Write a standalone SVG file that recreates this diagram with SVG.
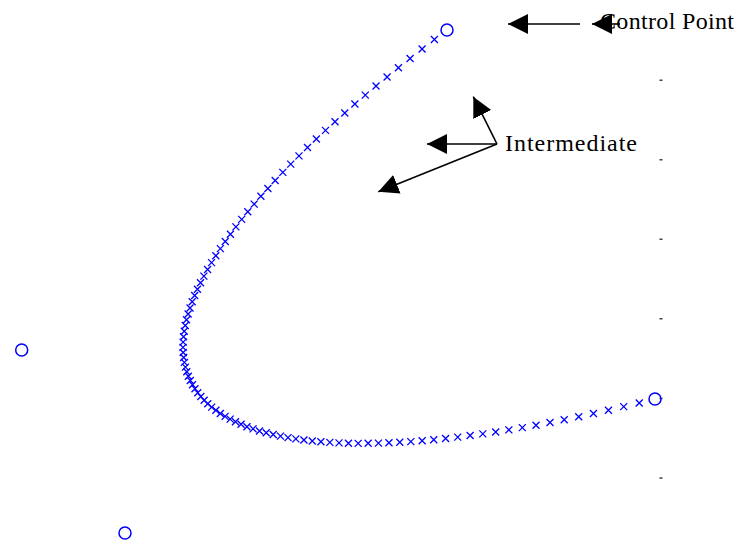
<svg xmlns="http://www.w3.org/2000/svg" xmlns:xlink="http://www.w3.org/1999/xlink" width="739" height="543" viewBox="0 0 739 543">
<style>
.cp{fill:none;stroke:#0000ff;stroke-width:1.5}
.xm{stroke:#0000ff;stroke-width:1.3;fill:none}
.arr{stroke:#000;stroke-width:1.6;fill:none;marker-end:url(#ah)}
.lbl{font-family:"Liberation Serif","Times New Roman",serif;font-size:24px;fill:#000}
.tick{fill:#444}
</style>
<defs>
<marker id="ah" markerUnits="userSpaceOnUse" markerWidth="22" markerHeight="22" refX="20" refY="10" orient="auto">
<path d="M0,0 L20,10 L0,20 z" fill="#000"/>
</marker>
<path id="x" class="xm" d="M-3.5,-3.5 L3.5,3.5 M-3.5,3.5 L3.5,-3.5"/>
</defs>
<rect width="739" height="543" fill="#fff"/>
<g id="ticks">
<rect class="tick" x="659.5" y="79.5" width="3" height="1.5"/>
<rect class="tick" x="659.5" y="159" width="3" height="1.5"/>
<rect class="tick" x="659.5" y="238.5" width="3" height="1.5"/>
<rect class="tick" x="659.5" y="318" width="3" height="1.5"/>
<rect class="tick" x="659.5" y="397.7" width="3" height="1.5"/>
<rect class="tick" x="659.5" y="477.3" width="3" height="1.5"/>
</g>
<g id="curve">
<use href="#x" x="434.38" y="39.56"/><use href="#x" x="422.08" y="49.03"/><use href="#x" x="410.09" y="58.43"/><use href="#x" x="398.42" y="67.73"/><use href="#x" x="387.06" y="76.95"/>
<use href="#x" x="376.02" y="86.08"/><use href="#x" x="365.30" y="95.12"/><use href="#x" x="354.88" y="104.08"/><use href="#x" x="344.78" y="112.94"/><use href="#x" x="335.0" y="121.71"/>
<use href="#x" x="325.52" y="130.39"/><use href="#x" x="316.36" y="138.97"/><use href="#x" x="307.50" y="147.46"/><use href="#x" x="298.96" y="155.85"/><use href="#x" x="290.72" y="164.15"/>
<use href="#x" x="282.80" y="172.34"/><use href="#x" x="275.18" y="180.44"/><use href="#x" x="267.87" y="188.43"/><use href="#x" x="260.87" y="196.33"/><use href="#x" x="254.17" y="204.12"/>
<use href="#x" x="247.78" y="211.81"/><use href="#x" x="241.69" y="219.39"/><use href="#x" x="235.91" y="226.87"/><use href="#x" x="230.43" y="234.24"/><use href="#x" x="225.25" y="241.5"/>
<use href="#x" x="220.38" y="248.65"/><use href="#x" x="215.80" y="255.70"/><use href="#x" x="211.53" y="262.63"/><use href="#x" x="207.56" y="269.44"/><use href="#x" x="203.89" y="276.15"/>
<use href="#x" x="200.52" y="282.74"/><use href="#x" x="197.45" y="289.22"/><use href="#x" x="194.67" y="295.57"/><use href="#x" x="192.20" y="301.81"/><use href="#x" x="190.02" y="307.94"/>
<use href="#x" x="188.13" y="313.94"/><use href="#x" x="186.54" y="319.82"/><use href="#x" x="185.25" y="325.57"/><use href="#x" x="184.25" y="331.21"/><use href="#x" x="183.54" y="336.72"/>
<use href="#x" x="183.13" y="342.11"/><use href="#x" x="183.01" y="347.36"/><use href="#x" x="183.18" y="352.49"/><use href="#x" x="183.64" y="357.50"/><use href="#x" x="184.40" y="362.37"/>
<use href="#x" x="185.44" y="367.11"/><use href="#x" x="186.77" y="371.72"/><use href="#x" x="188.39" y="376.20"/><use href="#x" x="190.30" y="380.54"/><use href="#x" x="192.5" y="384.75"/>
<use href="#x" x="194.98" y="388.82"/><use href="#x" x="197.75" y="392.76"/><use href="#x" x="200.81" y="396.55"/><use href="#x" x="204.15" y="400.21"/><use href="#x" x="207.77" y="403.73"/>
<use href="#x" x="211.68" y="407.10"/><use href="#x" x="215.87" y="410.33"/><use href="#x" x="220.34" y="413.42"/><use href="#x" x="225.10" y="416.36"/><use href="#x" x="230.14" y="419.16"/>
<use href="#x" x="235.45" y="421.81"/><use href="#x" x="241.05" y="424.31"/><use href="#x" x="246.93" y="426.67"/><use href="#x" x="253.08" y="428.87"/><use href="#x" x="259.51" y="430.92"/>
<use href="#x" x="266.22" y="432.82"/><use href="#x" x="273.21" y="434.56"/><use href="#x" x="280.48" y="436.16"/><use href="#x" x="288.01" y="437.59"/><use href="#x" x="295.83" y="438.87"/>
<use href="#x" x="303.92" y="439.99"/><use href="#x" x="312.28" y="440.95"/><use href="#x" x="320.91" y="441.76"/><use href="#x" x="329.82" y="442.40"/><use href="#x" x="339.0" y="442.88"/>
<use href="#x" x="348.45" y="443.19"/><use href="#x" x="358.17" y="443.34"/><use href="#x" x="368.16" y="443.33"/><use href="#x" x="378.42" y="443.15"/><use href="#x" x="388.95" y="442.80"/>
<use href="#x" x="399.75" y="442.28"/><use href="#x" x="410.81" y="441.60"/><use href="#x" x="422.15" y="440.74"/><use href="#x" x="433.74" y="439.71"/><use href="#x" x="445.61" y="438.51"/>
<use href="#x" x="457.73" y="437.13"/><use href="#x" x="470.13" y="435.58"/><use href="#x" x="482.78" y="433.86"/><use href="#x" x="495.70" y="431.95"/><use href="#x" x="508.88" y="429.87"/>
<use href="#x" x="522.33" y="427.61"/><use href="#x" x="536.03" y="425.17"/><use href="#x" x="550.0" y="422.54"/><use href="#x" x="564.22" y="419.74"/><use href="#x" x="578.71" y="416.75"/>
<use href="#x" x="593.45" y="413.57"/><use href="#x" x="608.45" y="410.21"/><use href="#x" x="623.71" y="406.66"/><use href="#x" x="639.23" y="402.93"/>
</g>
<g id="cp0"><circle class="cp" cx="447" cy="30" r="6"/></g>
<g id="cp1"><circle class="cp" cx="21.7" cy="350" r="6"/></g>
<g id="cp2"><circle class="cp" cx="125" cy="533" r="6"/></g>
<g id="cp3"><circle class="cp" cx="655" cy="399" r="6"/></g>
<g id="label-control"><text class="lbl" x="600" y="28.5" textLength="134" lengthAdjust="spacing">Control Point</text></g>
<g id="label-intermediate"><text class="lbl" x="505" y="151" textLength="132" lengthAdjust="spacing">Intermediate</text></g>
<g id="connectors">
<line class="arr" x1="580" y1="24" x2="508" y2="24"/>
<line class="arr" x1="620" y1="24" x2="592" y2="24"/>
<line class="arr" x1="497" y1="144" x2="473.3" y2="96.7"/>
<line class="arr" x1="497" y1="144" x2="427" y2="144"/>
<line class="arr" x1="497" y1="144" x2="378.3" y2="191.7"/>
</g>
</svg>
